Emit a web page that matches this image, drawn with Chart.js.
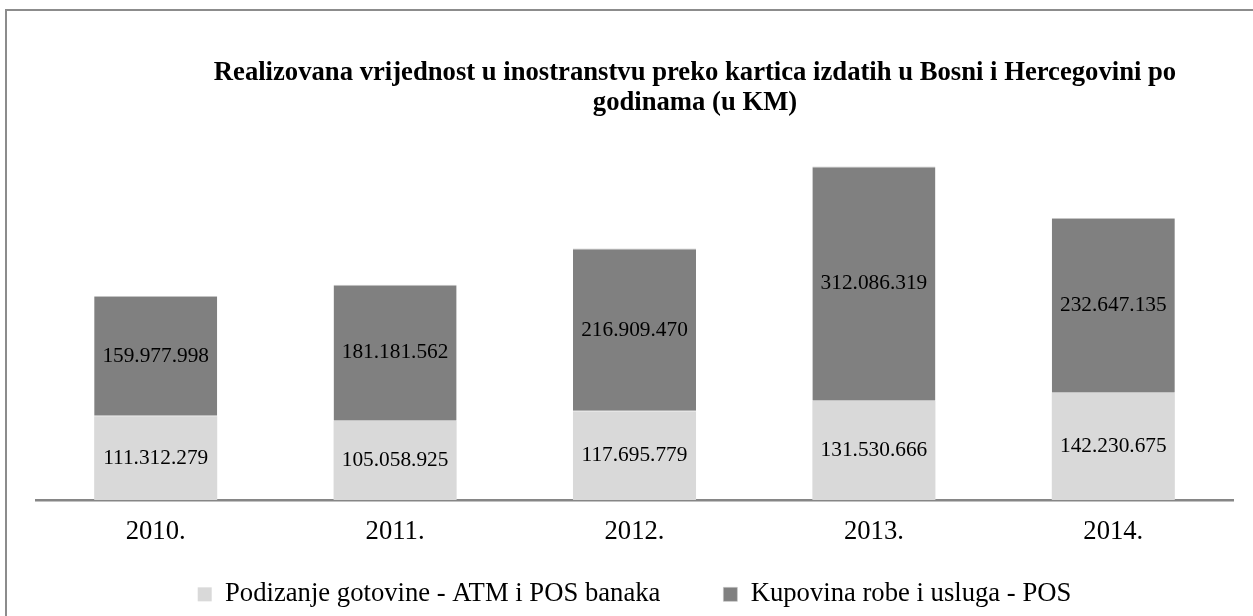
<!DOCTYPE html>
<html>
<head>
<meta charset="utf-8">
<script src="https://cdn.jsdelivr.net/npm/chart.js@4/dist/chart.umd.min.js"></script>
<style>
  html, body { margin: 0; padding: 0; background: #ffffff; }
  #wrap { width: 1253px; height: 616px; position: relative; }
</style>
</head>
<body>
<div id="wrap"><canvas id="c" width="1253" height="616"></canvas></div>
<script>
const categories = ['2010.', '2011.', '2012.', '2013.', '2014.'];
const seriesNames = ['Podizanje gotovine - ATM i POS banaka', 'Kupovina robe i usluga - POS'];
const cashWithdrawal = [111312279, 105058925, 117695779, 131530666, 142230675];
const purchases = [159977998, 181181562, 216909470, 312086319, 232647135];
const titleLines = ['Realizovana vrijednost u inostranstvu preko kartica izdatih u Bosni i Hercegovini po', 'godinama (u KM)'];

const SERIF = '"Liberation Serif", "Times New Roman", serif';

function fmt(v) {
  return String(Math.round(v)).replace(/\B(?=(\d{3})+(?!\d))/g, '.');
}

const framePlugin = {
  id: 'frame',
  afterLayout(chart) {
    // place the legend row where the reference has it
    const lg = chart.legend;
    if (lg) {
      lg.top = 518;
      lg.bottom = chart.height;
      lg.height = lg.bottom - lg.top;
    }
  },
  beforeDraw(chart) {
    const ctx = chart.ctx;
    ctx.save();
    ctx.fillStyle = '#ffffff';
    ctx.fillRect(0, 0, chart.width, chart.height);
    ctx.strokeStyle = '#8c8c8c';
    ctx.lineWidth = 2;
    ctx.strokeRect(6, 10, chart.width + 50, chart.height + 50);
    ctx.restore();
  },
  afterDraw(chart) {
    const ctx = chart.ctx;
    ctx.save();
    ctx.fillStyle = '#000000';
    ctx.font = 'bold 26.67px ' + SERIF;
    ctx.textAlign = 'center';
    ctx.textBaseline = 'alphabetic';
    ctx.fillText(titleLines[0], 695, 80);
    ctx.fillText(titleLines[1], 695, 110);
    ctx.restore();
  }
};

const valueLabels = {
  id: 'valueLabels',
  afterDatasetsDraw(chart) {
    const ctx = chart.ctx;
    ctx.save();
    ctx.font = '21.33px ' + SERIF;
    ctx.fillStyle = '#000000';
    ctx.textAlign = 'center';
    ctx.textBaseline = 'middle';
    chart.data.datasets.forEach((ds, di) => {
      const meta = chart.getDatasetMeta(di);
      meta.data.forEach((el, i) => {
        const y = (el.y + el.base) / 2;
        ctx.fillText(fmt(ds.data[i]), el.x, y);
      });
    });
    ctx.restore();
  }
};

new Chart(document.getElementById('c'), {
  type: 'bar',
  data: {
    labels: categories,
    datasets: [
      { label: seriesNames[0], data: cashWithdrawal, backgroundColor: '#d9d9d9', borderWidth: 0 },
      { label: seriesNames[1], data: purchases, backgroundColor: '#808080',
        borderColor: '#c4c4c4', borderWidth: { top: 1, bottom: 1, left: 0, right: 0 }, borderSkipped: false }
    ]
  },
  options: {
    responsive: false,
    animation: false,
    devicePixelRatio: 1,
    layout: { padding: { left: 36, right: 20, top: 124, bottom: 0 } },
    datasets: { bar: { categoryPercentage: 1, barPercentage: 0.514 } },
    scales: {
      x: {
        stacked: true,
        grid: { display: false, drawTicks: false },
        border: { display: true, color: '#868686', width: 2.5 },
        ticks: { color: '#000000', font: { family: SERIF, size: 26.67 }, padding: 16, maxRotation: 0 },
        afterFit(scale) { scale.height = 50; }
      },
      y: {
        stacked: true,
        display: false,
        min: 0,
        max: 500000000
      }
    },
    plugins: {
      legend: {
        position: 'bottom',
        maxHeight: 66,
        labels: {
          color: '#000000',
          font: { family: SERIF, size: 26.67 },
          boxWidth: 14,
          boxHeight: 14,
          padding: 63
        }
      },
      title: { display: false },
      tooltip: { enabled: false }
    }
  },
  plugins: [framePlugin, valueLabels]
});
</script>
</body>
</html>
